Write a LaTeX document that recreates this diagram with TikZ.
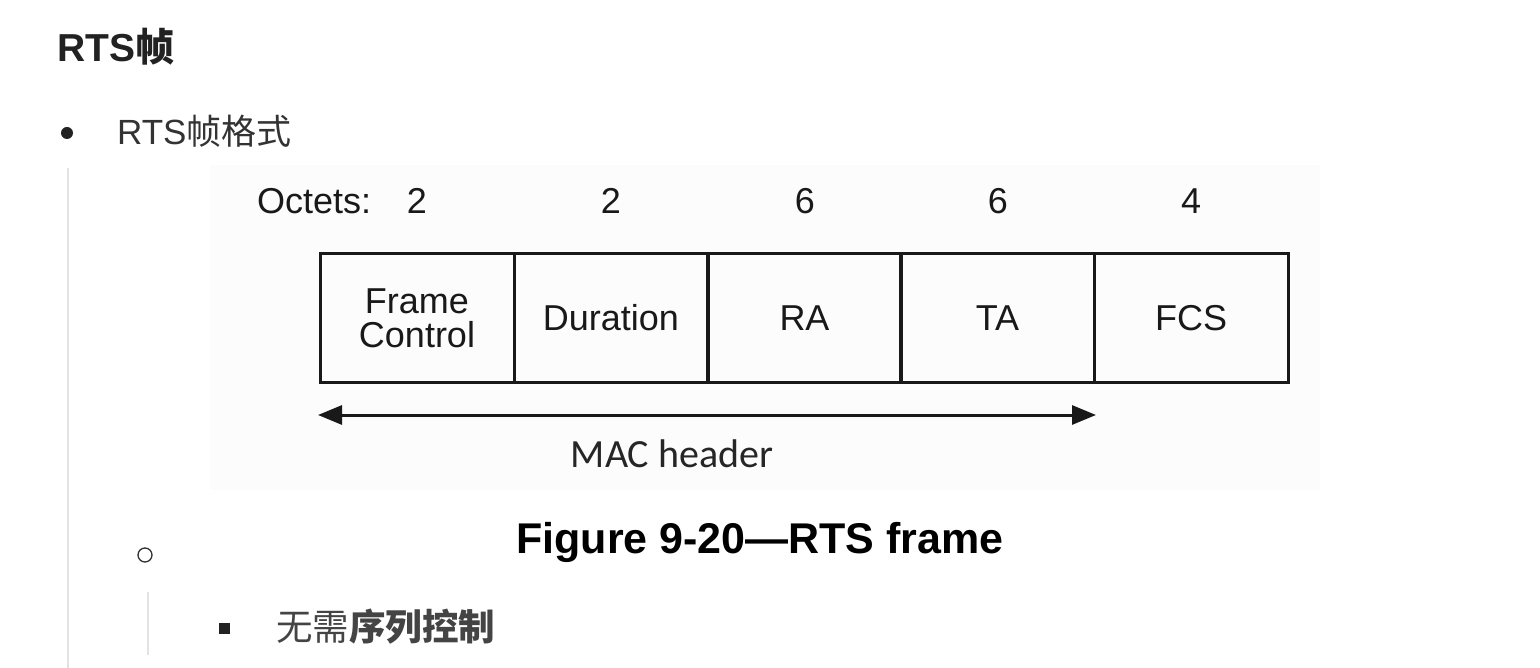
\documentclass[tikz,border=0pt]{standalone}
\usepackage{fontspec}
\setmainfont{Liberation Sans}
\newfontfamily\cjk{Noto Sans CJK SC}
\newfontfamily\calib{Carlito}
\usetikzlibrary{arrows.meta}
\definecolor{titlec}{HTML}{222222}
\definecolor{bodyc}{HTML}{333333}
\definecolor{subc}{HTML}{444444}
\definecolor{rulec}{HTML}{E2E2E2}
\tikzset{
  field/.style={draw=black!90, line width=3pt, minimum width=194pt, minimum height=128pt,
    inner sep=0pt, align=center, text=black!90, font=\fontsize{36}{38}\selectfont},
  octet/.style={anchor=base, text=black!90, font=\fontsize{36}{40}\selectfont},
  dimline/.style={line width=3pt, draw=black!90, {Triangle[length=24pt,width=19pt]}-{Triangle[length=24pt,width=19pt]}},
  guide/.style={draw=rulec, line width=1.5pt}
}
\begin{document}
\begin{tikzpicture}[x=1pt,y=-1pt]
\useasboundingbox (0,0) rectangle (1540,668);
\fill[white] (0,0) rectangle (1540,668);
% faint background of the embedded figure
\fill[black!1] (210,165) rectangle (1320,490);

% heading
\node[anchor=base west, inner sep=0pt, text=titlec, font=\fontsize{39}{44}\selectfont\bfseries] (title) at (57,62) {RTS{\cjk\bfseries 帧}};

% first bullet
\fill[titlec] (67,133) circle (6);
\node[anchor=base west, inner sep=0pt, text=bodyc, font=\fontsize{35}{38}\selectfont] (b1) at (117,145) {RTS{\cjk 帧格式}};

% guide lines
\coordinate (g1t) at (68,168);
\coordinate (g1b) at (68,668);
\draw[guide] (g1t) -- (g1b);
\coordinate (g2t) at (148,592);
\coordinate (g2b) at (148,655);
\draw[guide] (g2t) -- (g2b);

% octets row
\node[octet, anchor=base west, inner sep=0pt] (oct) at (257,214) {Octets:};
\node[octet] (o1) at (417,214) {2};
\node[octet] (o2) at (611,214) {2};
\node[octet] (o3) at (805,214) {6};
\node[octet] (o4) at (998,214) {6};
\node[octet] (o5) at (1191,214) {4};

% fields
\node[field] (fc)  at (417,318) {Frame\\[-4pt]Control};
\node[field] (dur) at (611,318) {Duration};
\node[field] (ra)  at (804.5,318) {RA};
\node[field] (ta)  at (997.5,318) {TA};
\node[field] (fcs) at (1191,318) {FCS};

% MAC header dimension
\coordinate (al) at (318,415);
\coordinate (ar) at (1096,415);
\draw[dimline] (al) -- (ar);
\node[anchor=base, font=\calib\fontsize{40}{44}\selectfont, text=black!85] (mac) at (672,467) {MAC header};

% caption
\node[anchor=base, font=\fontsize{43}{46}\selectfont\bfseries] (cap) at (760,553) {Figure 9-20—RTS frame};

% second-level bullet
\draw[bodyc, line width=1.3pt] (145,555) circle (7);

% third-level bullet
\fill[titlec] (218.5,622.5) rectangle (229.5,633.5);
\node[anchor=base west, inner sep=0pt, text=subc, font=\fontsize{36.5}{40}\selectfont] (b3) at (276,640) {{\cjk 无需}{\cjk\bfseries 序列控制}};
\end{tikzpicture}
\end{document}
